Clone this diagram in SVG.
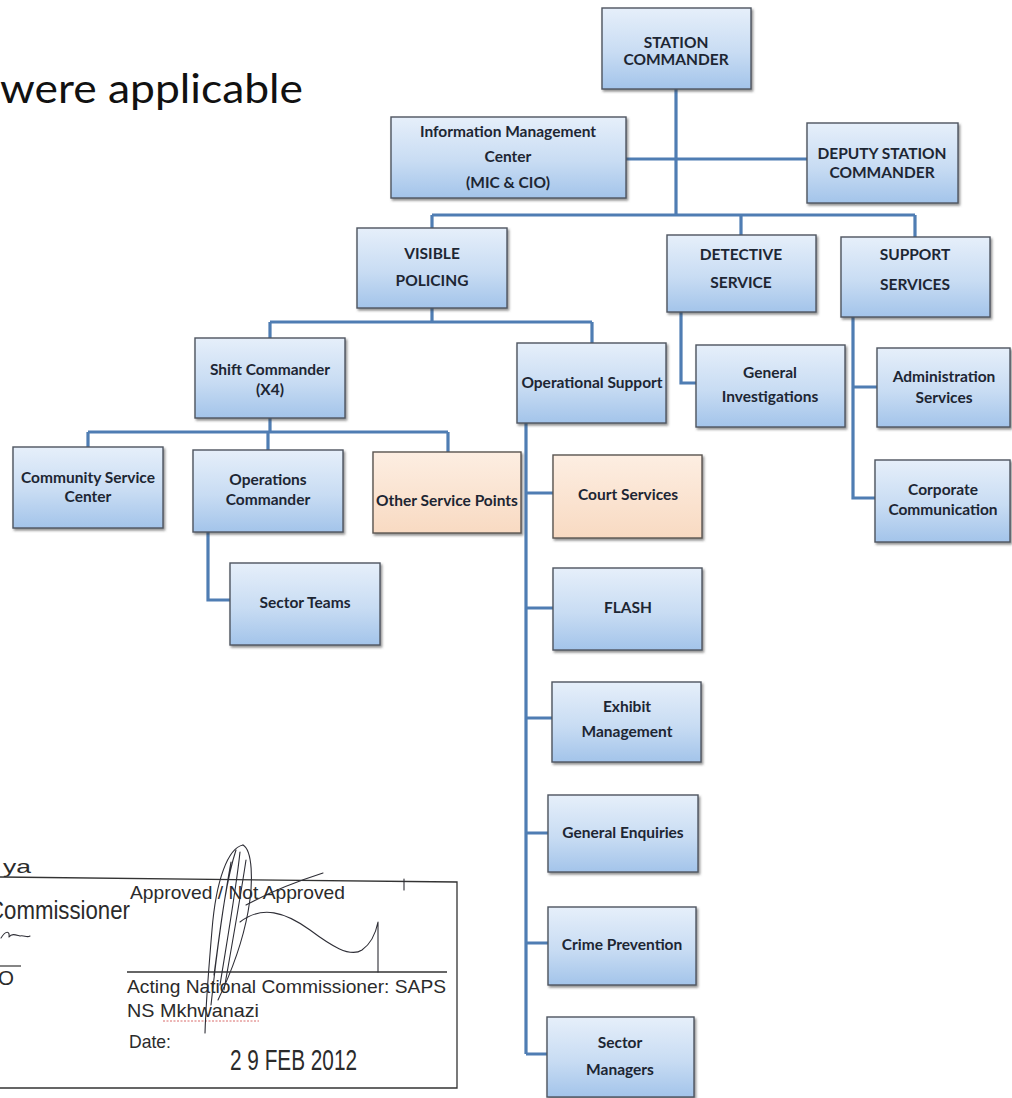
<svg xmlns="http://www.w3.org/2000/svg" width="1012" height="1098" viewBox="0 0 1012 1098">
  <defs>
    <linearGradient id="blueFill" x1="0" y1="0" x2="0" y2="1">
      <stop offset="0" stop-color="#e6effa"/>
      <stop offset="0.55" stop-color="#c8dcf3"/>
      <stop offset="1" stop-color="#a3c4ea"/>
    </linearGradient>
    <linearGradient id="peachFill" x1="0" y1="0" x2="0" y2="1">
      <stop offset="0" stop-color="#fdeee2"/>
      <stop offset="1" stop-color="#f8dac2"/>
    </linearGradient>
    <filter id="shade" x="-10%" y="-10%" width="125%" height="130%">
      <feDropShadow dx="1.5" dy="2" stdDeviation="1.2" flood-color="#3a3a3a" flood-opacity="0.55"/>
    </filter>
    <style>
      .box { fill: url(#blueFill); stroke: #4e5560; stroke-width: 1.4; filter: url(#shade); }
      .peach { fill: url(#peachFill); stroke: #5a5450; stroke-width: 1.4; filter: url(#shade); }
      .lbl { font-family: Lato, "Liberation Sans", sans-serif; font-weight: 700; font-size: 15.5px; fill: #1d2633; text-anchor: middle; }
      .wire { fill: none; stroke: #4f7db3; stroke-width: 3.2; stroke-linejoin: miter; }
      .sig { font-family: "Liberation Sans", Arial, sans-serif; fill: #2b2b2b; }
      .ink { fill: none; stroke: #2e2e36; stroke-width: 1.1; stroke-linecap: round; stroke-linejoin: round; }
      .rule { stroke: #333; stroke-width: 1.3; fill: none; }
    </style>
  </defs>

  <rect width="1012" height="1098" fill="#ffffff"/>

  <!-- heading fragment -->
  <text x="0" y="103" font-family="Lato, 'Liberation Sans', sans-serif" font-size="41" fill="#111" textLength="303" lengthAdjust="spacingAndGlyphs">were applicable</text>

  <!-- connectors -->
  <g id="connectors" class="wire">
    <path d="M676 89 V215"/>
    <path d="M626 159 H807"/>
    <path d="M432 215 H915 M432 215 V228 M741 215 V235 M915 215 V237"/>
    <path d="M432 308 V322 M270 322 H592 M270 322 V338 M592 322 V343"/>
    <path d="M270 418 V432 M88 432 H448 M88 432 V447 M268 432 V450 M448 432 V452"/>
    <path d="M208 532 V600 H230"/>
    <path d="M526 423 V1054 M526 493 H553 M526 608 H553 M526 718 H552 M526 833 H548 M526 943 H548 M526 1054 H547"/>
    <path d="M681 312 V383 H696"/>
    <path d="M853 317 V498 H875 M853 387 H877"/>
  </g>

  <!-- nodes -->
  <g id="station-commander">
    <rect class="box" x="602" y="8" width="149" height="81"/>
    <text class="lbl" x="676" y="48" font-size="14">STATION</text>
    <text class="lbl" x="676" y="65" font-size="14">COMMANDER</text>
  </g>
  <g id="info-management">
    <rect class="box" x="391" y="117" width="235" height="81"/>
    <text class="lbl" x="508" y="137" font-size="15.8">Information Management</text>
    <text class="lbl" x="508" y="162" font-size="15.8">Center</text>
    <text class="lbl" x="508" y="188" font-size="15.8">(MIC &amp; CIO)</text>
  </g>
  <g id="deputy-commander">
    <rect class="box" x="807" y="123" width="151" height="80"/>
    <text class="lbl" x="882" y="159" font-size="14.5">DEPUTY  STATION</text>
    <text class="lbl" x="882" y="178" font-size="14.5">COMMANDER</text>
  </g>
  <g id="visible-policing">
    <rect class="box" x="357" y="228" width="150" height="80"/>
    <text class="lbl" x="432" y="259" font-size="16">VISIBLE</text>
    <text class="lbl" x="432" y="286" font-size="16">POLICING</text>
  </g>
  <g id="detective-service">
    <rect class="box" x="667" y="235" width="149" height="77"/>
    <text class="lbl" x="741" y="260" font-size="14.5">DETECTIVE</text>
    <text class="lbl" x="741" y="288" font-size="14.5">SERVICE</text>
  </g>
  <g id="support-services">
    <rect class="box" x="841" y="237" width="149" height="80"/>
    <text class="lbl" x="915" y="260" font-size="15.5">SUPPORT</text>
    <text class="lbl" x="915" y="290" font-size="15.5">SERVICES</text>
  </g>
  <g id="shift-commander">
    <rect class="box" x="195" y="338" width="150" height="80"/>
    <text class="lbl" x="270" y="375">Shift Commander</text>
    <text class="lbl" x="270" y="395">(X4)</text>
  </g>
  <g id="operational-support">
    <rect class="box" x="517" y="343" width="149" height="80"/>
    <text class="lbl" x="592" y="388" font-size="15.3">Operational Support</text>
  </g>
  <g id="general-investigations">
    <rect class="box" x="696" y="345" width="149" height="82"/>
    <text class="lbl" x="770" y="378">General</text>
    <text class="lbl" x="770" y="402">Investigations</text>
  </g>
  <g id="administration-services">
    <rect class="box" x="877" y="348" width="133" height="79"/>
    <text class="lbl" x="944" y="382">Administration</text>
    <text class="lbl" x="944" y="403">Services</text>
  </g>
  <g id="corporate-communication">
    <rect class="box" x="875" y="460" width="135" height="82"/>
    <text class="lbl" x="943" y="495">Corporate</text>
    <text class="lbl" x="943" y="515">Communication</text>
  </g>
  <g id="community-service-center">
    <rect class="box" x="13" y="447" width="150" height="81"/>
    <text class="lbl" x="88" y="483">Community Service</text>
    <text class="lbl" x="88" y="502">Center</text>
  </g>
  <g id="operations-commander">
    <rect class="box" x="193" y="450" width="150" height="82"/>
    <text class="lbl" x="268" y="485">Operations</text>
    <text class="lbl" x="268" y="505">Commander</text>
  </g>
  <g id="other-service-points">
    <rect class="peach" x="373" y="452" width="148" height="81"/>
    <text class="lbl" x="447" y="506" font-size="15">Other Service Points</text>
  </g>
  <g id="sector-teams">
    <rect class="box" x="230" y="563" width="150" height="82"/>
    <text class="lbl" x="305" y="608">Sector Teams</text>
  </g>
  <g id="court-services">
    <rect class="peach" x="553" y="455" width="149" height="83"/>
    <text class="lbl" x="628" y="500">Court Services</text>
  </g>
  <g id="flash">
    <rect class="box" x="553" y="568" width="149" height="82"/>
    <text class="lbl" x="628" y="613">FLASH</text>
  </g>
  <g id="exhibit-management">
    <rect class="box" x="552" y="682" width="149" height="80"/>
    <text class="lbl" x="627" y="712">Exhibit</text>
    <text class="lbl" x="627" y="737">Management</text>
  </g>
  <g id="general-enquiries">
    <rect class="box" x="548" y="795" width="150" height="77"/>
    <text class="lbl" x="623" y="838">General Enquiries</text>
  </g>
  <g id="crime-prevention">
    <rect class="box" x="548" y="907" width="148" height="78"/>
    <text class="lbl" x="622" y="950">Crime Prevention</text>
  </g>
  <g id="sector-managers">
    <rect class="box" x="547" y="1017" width="147" height="80"/>
    <text class="lbl" x="620" y="1048">Sector</text>
    <text class="lbl" x="620" y="1075">Managers</text>
  </g>

  <!-- approval block -->
  <g id="approval-block">
    <path class="rule" d="M0 877 L457 882 V1088 H0"/>
    <text class="sig" x="3" y="873" font-size="19" textLength="28" lengthAdjust="spacingAndGlyphs">ya</text>
    <text class="sig" x="-12" y="919" font-size="25" textLength="142" lengthAdjust="spacingAndGlyphs">Commissioner</text>
    <path class="ink" d="M1 938 C6 930 10 931 9 937 C12 933 16 935 20 936 C24 935 27 938 30 936"/>
    <line x1="0" y1="966" x2="21" y2="966" stroke="#333" stroke-width="1.2"/>
    <text class="sig" x="-2" y="985" font-size="20" textLength="16" lengthAdjust="spacingAndGlyphs">O</text>

    <text class="sig" x="130" y="899" font-size="19" textLength="215" lengthAdjust="spacingAndGlyphs">Approved / Not Approved</text>
    <line x1="127" y1="972" x2="447" y2="972" stroke="#333" stroke-width="1.3"/>
    <text class="sig" x="127" y="993" font-size="19" textLength="319" lengthAdjust="spacingAndGlyphs">Acting National Commissioner: SAPS</text>
    <text class="sig" x="127" y="1017" font-size="19" textLength="132" lengthAdjust="spacingAndGlyphs">NS Mkhwanazi</text>
    <path d="M163 1021 H259" stroke="#d86a6a" stroke-width="1" stroke-dasharray="2 1.5" fill="none"/>
    <text class="sig" x="129" y="1048" font-size="19" textLength="42" lengthAdjust="spacingAndGlyphs">Date:</text>
    <text class="sig" x="230" y="1070" font-size="30" textLength="127" lengthAdjust="spacingAndGlyphs">2 9 FEB 2012</text>

    <!-- handwritten signature -->
    <path class="ink" d="M243 845 C228 848 216 880 212 930 C209 965 206 1000 205 1033"/>
    <path class="ink" d="M243 845 C252 850 254 880 248 912 C242 945 230 975 218 1000"/>
    <path class="ink" d="M236 850 C226 880 220 930 214 975 M240 852 C236 890 228 935 220 985 M246 860 C240 900 232 945 224 990 M231 862 C224 900 217 950 211 1005"/>
    <path class="ink" d="M240 922 C262 905 285 912 310 930 C330 945 350 958 362 950 C372 943 376 932 378 922 V972"/>
    <path class="ink" d="M246 905 C268 893 295 882 323 873"/>
    <path class="ink" d="M404 879 V890"/>
  </g>
</svg>
